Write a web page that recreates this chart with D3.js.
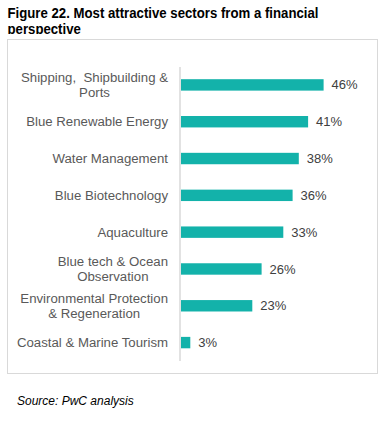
<!DOCTYPE html>
<html><head><meta charset="utf-8">
<script src="https://cdn.jsdelivr.net/npm/d3@7"></script>
<style>body{margin:0;background:#fff;}svg{display:block;} text{white-space:pre;}</style>
</head><body>
<script>
const categories = [
  ["Shipping,  Shipbuilding &", "Ports"],
  ["Blue Renewable Energy"],
  ["Water Management"],
  ["Blue Biotechnology"],
  ["Aquaculture"],
  ["Blue tech & Ocean", "Observation"],
  ["Environmental Protection", "& Regeneration"],
  ["Coastal & Marine Tourism"]
];
const values = [46, 41, 38, 36, 33, 26, 23, 3];
const titleLines = ["Figure 22. Most attractive sectors from a financial", "perspective"];
const sourceText = "Source: PwC analysis";

const W = 385, H = 424;
const svg = d3.select("body").append("svg").attr("width", W).attr("height", H);
const font = "Liberation Sans, Arial, sans-serif";

function measure(txt, fs, weight) {
  const t = svg.append("text").attr("font-family", font).attr("font-size", fs)
    .attr("font-weight", weight || "normal").text(txt);
  const w = t.node().getComputedTextLength(); t.remove(); return w;
}
const titleFs = 14.6;
const titleScale = 311 / measure(titleLines[0], titleFs, "bold");
const labelFs = 13 * 142 / measure("Blue Renewable Energy", 13);

// title (clipped by the chart box)
svg.append("clipPath").attr("id", "tclip").append("rect").attr("x", 0).attr("y", 0).attr("width", W).attr("height", 34);
const tg = svg.append("g").attr("clip-path", "url(#tclip)");
titleLines.forEach((t, i) => {
  const el = tg.append("text").attr("x", 7.5).attr("y", 18.3 + i * 16)
    .attr("font-family", font).attr("font-weight", "bold").attr("font-size", titleFs)
    .attr("fill", "#000").text(t);
  const w = el.node().getComputedTextLength();
  el.attr("textLength", w * titleScale).attr("lengthAdjust", "spacingAndGlyphs");
});

// box
svg.append("rect").attr("x", 7.5).attr("y", 39.5).attr("width", 370).attr("height", 334)
  .attr("fill", "none").attr("stroke", "#d9d9d9").attr("stroke-width", 1);

const idx = d3.range(categories.length);
const y = d3.scaleBand().domain(idx).range([66.5, 361]).paddingInner(0.69).paddingOuter(0.345);
const x = d3.scaleLinear().domain([0, 50]).range([181, 336]);

// bars
svg.selectAll("rect.bar").data(idx).join("rect").attr("class", "bar")
  .attr("x", x(0)).attr("y", d => y(d)).attr("width", d => x(values[d]) - x(0))
  .attr("height", y.bandwidth()).attr("fill", "#13b2aa");

// axis line
svg.append("line").attr("x1", 180).attr("x2", 180).attr("y1", 67).attr("y2", 361)
  .attr("stroke", "#d9d9d9").attr("stroke-width", 1.5);

// value labels
svg.selectAll("text.val").data(idx).join("text").attr("class", "val")
  .attr("x", d => x(values[d]) + 8).attr("y", d => y(d) + y.bandwidth() / 2)
  .attr("dy", "0.35em").attr("font-family", font).attr("font-size", 13)
  .attr("fill", "#404040").text(d => values[d] + "%");

// category labels: centered block, right aligned at 168
const lh = 14.5;
idx.forEach(d => {
  const lines = categories[d];
  const cy = y(d) + y.bandwidth() / 2;
  const g = svg.append("g");
  const texts = lines.map((l, i) => g.append("text")
    .attr("y", cy + (i - (lines.length - 1) / 2) * lh).attr("dy", "0.35em")
    .attr("font-family", font).attr("font-size", labelFs).attr("fill", "#595959")
    .attr("text-anchor", "middle").text(l));
  const maxW = d3.max(texts, t => t.node().getComputedTextLength());
  texts.forEach(t => t.attr("x", 168 - maxW / 2));
});

// source
svg.append("text").attr("x", 17).attr("y", 405).attr("font-family", font)
  .attr("font-style", "italic").attr("font-size", 12).attr("fill", "#000").text(sourceText);
</script>
</body></html>
